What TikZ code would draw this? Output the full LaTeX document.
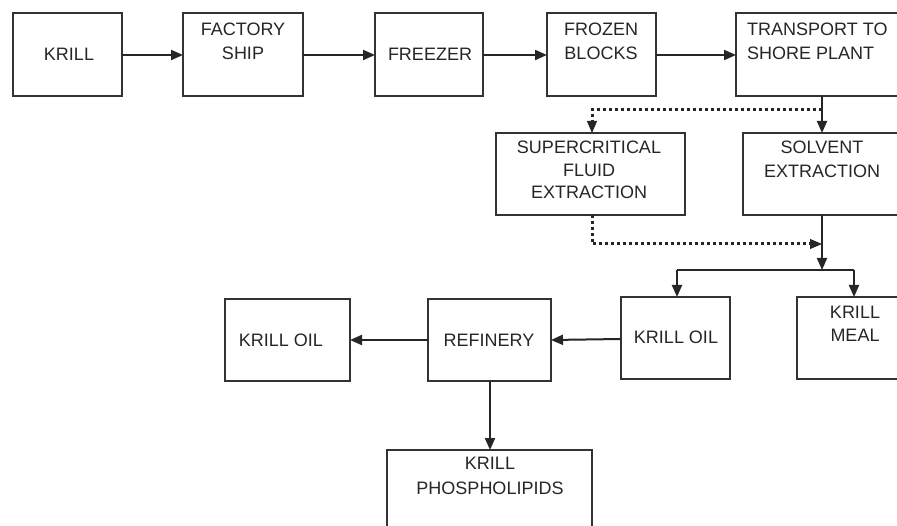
\documentclass[tikz,border=0pt]{standalone}
\usepackage{fontspec}
\setmainfont{Liberation Sans}
\usetikzlibrary{arrows.meta,calc}
\begin{document}
\begin{tikzpicture}[x=1pt,y=-1pt,
  box/.style={draw=black!80, line width=2pt, rectangle, inner sep=0pt, outer sep=0pt},
  txt/.style={inner sep=0pt, align=center, text=black!85, font=\fontsize{18}{24}\selectfont},
  arr/.style={draw=black!85, line width=2pt, -{Triangle[length=12pt,width=10pt]}},
  ln/.style={draw=black!85, line width=2pt},
  dots/.style={draw=black!85, line width=3pt, dash pattern=on 3pt off 3pt}
]
\useasboundingbox (0,0) rectangle (897,526);
\clip (0,0) rectangle (897,526);
\fill[white] (0,0) rectangle (897,526);

% boxes
\node[box, minimum width=109, minimum height=83] (krill) at (67.5,55) {};
\node[box, minimum width=120, minimum height=83] (ship) at (243,55) {};
\node[box, minimum width=108, minimum height=83] (freezer) at (429,55) {};
\node[box, minimum width=109, minimum height=83] (frozen) at (601.5,55) {};
\node[box, minimum width=184, minimum height=83] (transport) at (828,55) {};
\node[box, minimum width=189, minimum height=82] (scf) at (590.5,174) {};
\node[box, minimum width=177, minimum height=82] (solvent) at (831.5,174) {};
\node[box, minimum width=109, minimum height=82] (oilr) at (675.5,338) {};
\node[box, minimum width=123, minimum height=82] (meal) at (858.5,338) {};
\node[box, minimum width=123, minimum height=82] (refinery) at (489.5,340) {};
\node[box, minimum width=125, minimum height=82] (oill) at (287.5,340) {};
\node[box, minimum width=205, minimum height=110] (phos) at (489.5,505) {};

% texts
\node[txt] (t-krill) at (69,54.5) {KRILL};
\node[txt] (t-ship) at (243,41.75) {FACTORY\\SHIP};
\node[txt] (t-freezer) at (430,54.5) {FREEZER};
\node[txt] (t-frozen) at (601,41.75) {FROZEN\\BLOCKS};
\node[txt, align=left, anchor=west] (t-transport) at (747,41.75) {TRANSPORT TO\\SHORE PLANT};
\node[txt, font=\fontsize{18}{22.5}\selectfont] (t-scf) at (589,170) {SUPERCRITICAL\\FLUID\\EXTRACTION};
\node[txt] (t-solvent) at (822,159.5) {SOLVENT\\EXTRACTION};
\node[txt] (t-oill) at (281,340) {KRILL OIL};
\node[txt] (t-refinery) at (489,340) {REFINERY};
\node[txt] (t-oilr) at (676,337) {KRILL OIL};
\node[txt, font=\fontsize{18}{23}\selectfont] (t-meal) at (855,323.5) {KRILL\\MEAL};
\node[txt, font=\fontsize{18}{25}\selectfont] (t-phos) at (490,475.5) {KRILL\\PHOSPHOLIPIDS};

% junction coordinates
\coordinate (xs) at (822,110);
\coordinate (xd) at (592,110);
\coordinate (jd) at (592,244);
\coordinate (jm) at (822,270);
\coordinate (jl) at (677,270);
\coordinate (jr) at (854,270);
\coordinate (xr) at (490,0);

% top row
\draw[arr] (krill.east) -- (ship.west);
\draw[arr] (ship.east) -- (freezer.west);
\draw[arr] (freezer.east) -- (frozen.west);
\draw[arr] (frozen.east) -- (transport.west);

% to extraction
\draw[arr] (transport.south -| xs) -- (solvent.north -| xs);
\draw[dots] (xs) -- (xd) -- ($(scf.north -| xd)+(0,-11)$);
\draw[arr, line width=1pt] ($(scf.north -| xd)+(0,-12)$) -- (scf.north -| xd);

% from extraction
\draw[arr] (solvent.south -| xs) -- (jm);
\draw[dots] (scf.south -| xd) -- (jd) -- ($(jd -| xs)+(-11,0)$);
\draw[arr, line width=1pt] ($(jd -| xs)+(-12,0)$) -- (jd -| xs);

% split
\draw[ln] (jl) -- (jr);
\draw[arr] (jl) -- (oilr.north -| jl);
\draw[arr] (jr) -- (meal.north -| jr);

% bottom row
\draw[arr] ($(oilr.west)+(0,1)$) -- (refinery.east);
\draw[arr] (refinery.west) -- (oill.east);
\draw[arr] (refinery.south -| xr) -- (phos.north -| xr);
\end{tikzpicture}
\end{document}
